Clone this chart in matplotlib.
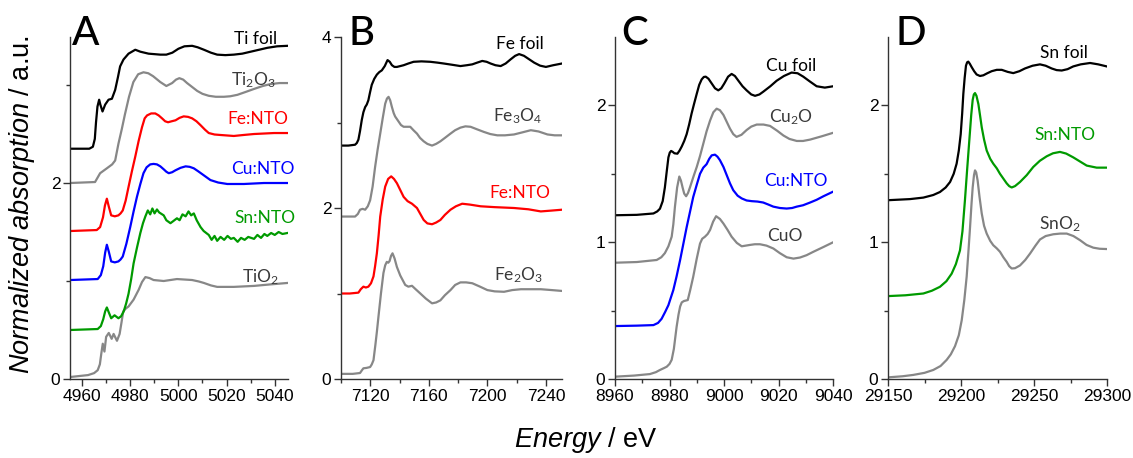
import matplotlib
matplotlib.use("Agg")
import matplotlib.pyplot as plt
from matplotlib.ticker import FixedLocator

plt.rcParams['font.family'] = ['Liberation Sans', 'DejaVu Sans']
plt.rcParams['mathtext.fontset'] = 'custom'
plt.rcParams['mathtext.rm'] = 'Lato'
plt.rcParams['mathtext.it'] = 'Liberation Sans:italic'

BLACK = '#000000'
GRAY = '#878787'
RED = '#ff0000'
BLUE = '#0000ff'
GREEN = '#009a00'
LABGRAY = '#3a3a3a'

# ---------------- Panel A : Ti K-edge ----------------
a_tifoil_e = [4955, 4963.0, 4964.5, 4965.3, 4965.8, 4966.4, 4967.1, 4967.6, 4968.5, 4969.6,
              4971.0, 4972.4, 4973.75, 4974.9, 4975.8, 4977.2, 4979.3, 4982.1, 4984.2, 4987.6,
              4992.5, 4995.0, 4997.5, 5000.0, 5002.5, 5005.7, 5008.0, 5010.6, 5013.5, 5016.1,
              5019.5, 5023.0, 5026.5, 5030.0, 5033.5, 5037.0, 5041.0, 5045.3]
a_tifoil_y = [2.35, 2.35, 2.37, 2.45, 2.62, 2.78, 2.85, 2.80, 2.73, 2.80,
              2.85, 2.86, 2.95, 3.08, 3.19, 3.26, 3.32, 3.36, 3.34, 3.32,
              3.31, 3.31, 3.33, 3.37, 3.395, 3.40, 3.385, 3.36, 3.33, 3.31,
              3.305, 3.31, 3.32, 3.34, 3.36, 3.38, 3.395, 3.40]

a_ti2o3_e = [4955, 4965.4, 4967.5, 4970.3, 4972.5, 4973.75, 4975.1, 4976.5, 4977.8, 4979.5,
             4981.3, 4983.3, 4985.5, 4987.5, 4989.5, 4992.5, 4995.0, 4997.4, 4999.0, 5000.4,
             5002.0, 5003.6, 5005.7, 5007.8, 5010.0, 5012.6, 5015.5, 5018.9, 5021.5, 5024.5,
             5028.0, 5031.4, 5035.0, 5038.3, 5042.0, 5045.3]
a_ti2o3_y = [2.00, 2.01, 2.10, 2.15, 2.19, 2.23, 2.40, 2.55, 2.70, 2.88,
             3.03, 3.11, 3.13, 3.12, 3.09, 3.03, 2.99, 3.02, 3.055, 3.07,
             3.055, 3.02, 2.98, 2.94, 2.91, 2.89, 2.88, 2.88, 2.885, 2.90,
             2.93, 2.96, 2.99, 3.01, 3.02, 3.02]

a_fento_e = [4955, 4966.1, 4967.5, 4968.7, 4969.5, 4970.3, 4971.1, 4972.1, 4973.6, 4975.1,
             4976.0, 4976.9, 4978.1, 4979.3, 4980.7, 4982.1, 4983.5, 4984.9, 4986.0, 4987.0,
             4988.7, 4990.4, 4991.8, 4993.2, 4994.5, 4995.7, 4997.2, 4998.8, 5000.5, 5002.2,
             5004.0, 5005.7, 5007.5, 5009.2, 5011.0, 5012.6, 5015.0, 5017.5, 5023.0, 5027.0,
             5031.4, 5039.7, 5045.3]
a_fento_y = [1.51, 1.52, 1.55, 1.65, 1.77, 1.84, 1.76, 1.67, 1.66, 1.67,
             1.69, 1.72, 1.82, 1.96, 2.12, 2.27, 2.43, 2.57, 2.66, 2.69,
             2.71, 2.71, 2.69, 2.66, 2.63, 2.62, 2.63, 2.64, 2.665, 2.68,
             2.675, 2.66, 2.63, 2.59, 2.545, 2.51, 2.495, 2.49, 2.48, 2.49,
             2.50, 2.51, 2.51]

a_cunto_e = [4955, 4966.5, 4967.8, 4968.8, 4969.6, 4970.3, 4971.1, 4972.1, 4973.6, 4975.1,
             4976.0, 4976.9, 4978.4, 4980.0, 4981.4, 4982.8, 4984.2, 4985.5, 4986.8, 4988.3,
             4989.7, 4991.1, 4992.5, 4993.9, 4995.0, 4996.0, 4997.4, 4998.8, 5000.9, 5003.0,
             5004.7, 5006.4, 5008.2, 5009.9, 5011.6, 5013.3, 5016.5, 5020.3, 5027.2, 5035.5,
             5045.3]
a_cunto_y = [1.01, 1.02, 1.06, 1.15, 1.29, 1.37, 1.30, 1.20, 1.19, 1.20,
             1.22, 1.25, 1.38, 1.55, 1.71, 1.86, 1.99, 2.10, 2.16, 2.19,
             2.195, 2.19, 2.17, 2.14, 2.115, 2.10, 2.11, 2.13, 2.155, 2.17,
             2.165, 2.15, 2.12, 2.09, 2.06, 2.03, 2.005, 1.99, 1.99, 2.00,
             2.00]

a_snnto_e = [4955, 4966.5, 4967.8, 4968.8, 4969.6, 4970.3, 4971.1, 4972.1, 4973.5, 4975.1,
             4976.2, 4977.3, 4978.3, 4979.3, 4980.4, 4981.4, 4982.8, 4984.2, 4985.3, 4986.3,
             4987.3, 4988.3, 4989.2, 4990.1, 4991.1, 4992.0, 4993.9, 4995.0, 4996.7, 4997.8,
             4999.4, 5000.5, 5001.7, 5003.0, 5004.2, 5005.3, 5006.4, 5007.6, 5009.2, 5010.5,
             5012.6, 5013.8, 5015.0, 5016.1, 5017.5, 5019.0, 5020.4, 5021.8, 5023.0, 5024.6,
             5026.0, 5027.5, 5029.0, 5031.4, 5032.8, 5034.3, 5035.7, 5036.9, 5038.5, 5040.0,
             5041.6, 5043.2, 5045.3]
a_snnto_y = [0.50, 0.51, 0.54, 0.61, 0.69, 0.73, 0.68, 0.62, 0.65, 0.62,
             0.64, 0.69, 0.77, 0.87, 1.02, 1.18, 1.34, 1.49, 1.59, 1.66,
             1.72, 1.68, 1.74, 1.69, 1.73, 1.70, 1.67, 1.62, 1.59, 1.61,
             1.64, 1.62, 1.68, 1.66, 1.71, 1.67, 1.69, 1.62, 1.55, 1.51,
             1.47, 1.42, 1.46, 1.41, 1.45, 1.42, 1.46, 1.43, 1.44, 1.40,
             1.44, 1.42, 1.45, 1.43, 1.47, 1.44, 1.48, 1.46, 1.49, 1.47,
             1.50, 1.48, 1.49]

a_tio2_e = [4955, 4962.5, 4965.0, 4966.5, 4967.4, 4968.0, 4968.6, 4969.3, 4970.0, 4971.1,
            4972.3, 4973.1, 4974.5, 4975.6, 4976.4, 4977.1, 4978.2, 4979.3, 4981.4, 4983.5,
            4984.9, 4986.3, 4988.0, 4989.7, 4993.9, 4999.4, 5005.7, 5008.5, 5010.6, 5013.5,
            5016.1, 5023.0, 5031.4, 5038.0, 5045.3]
a_tio2_y = [0.02, 0.04, 0.06, 0.09, 0.15, 0.26, 0.36, 0.28, 0.43, 0.47,
            0.41, 0.46, 0.39, 0.46, 0.58, 0.69, 0.72, 0.74, 0.81, 0.91,
            0.99, 1.04, 1.03, 1.01, 1.00, 1.02, 1.01, 0.995, 0.98, 0.955,
            0.94, 0.94, 0.95, 0.965, 0.98]

# ---------------- Panel B : Fe K-edge ----------------
b_fefoil_e = [7100.7, 7105.0, 7109.6, 7110.8, 7111.9, 7113.0, 7114.2, 7115.3, 7116.5, 7117.6,
              7118.7, 7119.8, 7121.0, 7122.7, 7124.5, 7126.2, 7127.9, 7129.9, 7131.8, 7133.3,
              7134.8, 7136.5, 7138.2, 7142.8, 7146.0, 7149.6, 7155.0, 7161.0, 7166.0, 7170.2,
              7176.0, 7181.6, 7186.0, 7189.7, 7193.0, 7196.5, 7199.5, 7202.2, 7205.5, 7209.1,
              7212.5, 7216.0, 7219.0, 7221.7, 7225.0, 7228.5, 7232.0, 7236.0, 7240.0, 7245.0,
              7251.0]
b_fefoil_y = [2.73, 2.73, 2.74, 2.76, 2.80, 2.90, 3.03, 3.12, 3.18, 3.21,
              3.26, 3.35, 3.44, 3.51, 3.56, 3.59, 3.61, 3.66, 3.73, 3.71,
              3.67, 3.65, 3.65, 3.67, 3.69, 3.71, 3.715, 3.71, 3.70, 3.69,
              3.675, 3.66, 3.67, 3.68, 3.70, 3.72, 3.71, 3.69, 3.67, 3.66,
              3.69, 3.74, 3.78, 3.80, 3.78, 3.74, 3.70, 3.665, 3.65, 3.67,
              3.69]

b_fe3o4_e = [7100.7, 7109.6, 7111.5, 7113.0, 7114.8, 7116.5, 7118.3, 7119.9, 7121.6, 7123.3,
             7125.0, 7126.8, 7128.5, 7130.2, 7131.4, 7132.5, 7133.6, 7134.8, 7136.0, 7137.0,
             7139.0, 7141.0, 7142.8, 7145.0, 7147.3, 7149.5, 7151.9, 7154.0, 7156.5, 7159.0,
             7162.2, 7165.0, 7167.9, 7171.0, 7174.8, 7178.0, 7181.6, 7185.0, 7188.5, 7193.0,
             7197.6, 7202.0, 7206.8, 7212.0, 7218.2, 7224.0, 7229.7, 7235.0, 7241.1, 7246.0,
             7251.0]
b_fe3o4_y = [1.90, 1.90, 1.93, 1.98, 1.99, 1.98, 2.02, 2.09, 2.25, 2.48,
             2.68, 2.87, 3.05, 3.22, 3.28, 3.30, 3.26, 3.18, 3.11, 3.07,
             3.02, 2.97, 2.95, 2.95, 2.95, 2.91, 2.87, 2.82, 2.78, 2.75,
             2.73, 2.75, 2.78, 2.82, 2.87, 2.91, 2.94, 2.955, 2.95, 2.92,
             2.89, 2.865, 2.85, 2.85, 2.86, 2.885, 2.91, 2.895, 2.86, 2.85,
             2.85]

b_fento_e = [7100.7, 7106.0, 7111.9, 7113.5, 7115.3, 7117.0, 7118.7, 7120.5, 7122.2, 7123.3,
             7124.5, 7125.7, 7126.8, 7128.5, 7130.2, 7132.2, 7134.3, 7136.2, 7138.2, 7140.5,
             7142.8, 7145.5, 7148.5, 7151.9, 7154.2, 7156.5, 7159.0, 7162.2, 7165.0, 7167.9,
             7171.0, 7174.8, 7178.5, 7182.8, 7188.0, 7195.4, 7205.0, 7218.2, 7228.0, 7236.5,
             7244.0, 7251.0]
b_fento_y = [1.00, 1.00, 1.01, 1.05, 1.08, 1.07, 1.08, 1.12, 1.20, 1.32,
             1.47, 1.68, 1.90, 2.10, 2.25, 2.34, 2.37, 2.34, 2.29, 2.21,
             2.13, 2.08, 2.05, 2.00, 1.93, 1.86, 1.82, 1.81, 1.83, 1.86,
             1.92, 1.98, 2.02, 2.05, 2.04, 2.02, 2.01, 2.00, 1.985, 1.96,
             1.97, 1.98]

b_fe2o3_e = [7100.7, 7108.0, 7113.0, 7114.2, 7115.3, 7117.5, 7119.9, 7121.0, 7122.2, 7123.5,
             7124.5, 7125.6, 7127.3, 7129.0, 7130.2, 7131.3, 7132.3, 7133.2, 7134.2, 7135.2,
             7136.6, 7138.2, 7140.5, 7143.9, 7146.0, 7148.5, 7151.0, 7154.2, 7158.0, 7162.2,
             7165.0, 7167.9, 7171.0, 7174.8, 7178.0, 7181.6, 7185.5, 7189.7, 7195.0, 7200.0,
             7205.0, 7211.4, 7217.0, 7222.9, 7230.0, 7236.5, 7244.0, 7251.0]
b_fe2o3_y = [0.06, 0.06, 0.07, 0.10, 0.125, 0.13, 0.14, 0.17, 0.22, 0.40,
             0.55, 0.73, 1.00, 1.24, 1.33, 1.37, 1.36, 1.38, 1.44, 1.47,
             1.41, 1.31, 1.21, 1.10, 1.08, 1.09, 1.05, 1.00, 0.94, 0.885,
             0.895, 0.92, 0.98, 1.04, 1.10, 1.13, 1.13, 1.12, 1.08, 1.04,
             1.025, 1.02, 1.04, 1.05, 1.05, 1.05, 1.04, 1.03]

# ---------------- Panel C : Cu K-edge ----------------
c_cufoil_e = [8960.0, 8968.0, 8974.1, 8975.5, 8976.5, 8977.5, 8978.3, 8979.0, 8979.6, 8980.1,
              8980.6, 8981.2, 8981.8, 8982.9, 8983.7, 8984.5, 8985.4, 8986.3, 8987.2, 8988.1,
              8989.0, 8990.0, 8990.9, 8991.8, 8992.6, 8993.3, 8994.3, 8995.5, 8996.7, 8997.9,
              8999.0, 9000.1, 9001.5, 9002.8, 9004.0, 9005.3, 9006.8, 9008.3, 9010.0, 9011.4,
              9013.0, 9014.4, 9017.0, 9019.3, 9022.0, 9024.8, 9027.0, 9029.1, 9031.5, 9034.0,
              9037.0, 9040.1]
c_cufoil_y = [1.197, 1.20, 1.21, 1.225, 1.245, 1.30, 1.40, 1.52, 1.62, 1.655,
              1.667, 1.66, 1.65, 1.647, 1.67, 1.70, 1.74, 1.79, 1.86, 1.94,
              2.01, 2.085, 2.15, 2.19, 2.208, 2.21, 2.195, 2.16, 2.125, 2.11,
              2.125, 2.16, 2.21, 2.23, 2.215, 2.18, 2.14, 2.11, 2.08, 2.07,
              2.08, 2.10, 2.14, 2.18, 2.215, 2.24, 2.235, 2.21, 2.175, 2.14,
              2.13, 2.14]

c_cu2o_e = [8960.0, 8968.0, 8975.3, 8977.0, 8978.3, 8979.6, 8980.8, 8981.4, 8982.0, 8982.8,
            8983.6, 8984.2, 8984.8, 8985.4, 8986.1, 8986.8, 8987.5, 8988.8, 8990.0, 8991.2,
            8992.4, 8993.6, 8994.9, 8996.1, 8997.3, 8998.5, 8999.8, 9001.0, 9002.2, 9003.4,
            9004.6, 9006.4, 9008.3, 9010.0, 9012.0, 9014.5, 9016.9, 9019.5, 9021.8, 9024.0,
            9026.7, 9029.0, 9031.6, 9036.0, 9040.1]
c_cu2o_y = [0.85, 0.855, 0.87, 0.89, 0.92, 0.97, 1.04, 1.13, 1.26, 1.40,
            1.48, 1.45, 1.40, 1.355, 1.336, 1.36, 1.40, 1.48, 1.55, 1.63,
            1.72, 1.81, 1.89, 1.95, 1.976, 1.965, 1.93, 1.88, 1.83, 1.79,
            1.77, 1.785, 1.82, 1.845, 1.86, 1.86, 1.85, 1.815, 1.78, 1.755,
            1.74, 1.74, 1.75, 1.775, 1.80]

c_cunto_e = [8960.0, 8968.0, 8974.1, 8975.8, 8977.1, 8978.4, 8979.6, 8981.4, 8982.6, 8983.9,
             8985.1, 8986.3, 8987.5, 8988.7, 8990.0, 8991.2, 8992.4, 8993.6, 8994.6, 8995.5,
             8996.7, 8997.6, 8998.5, 8999.8, 9001.0, 9002.2, 9003.4, 9005.0, 9006.5, 9008.3,
             9010.2, 9012.3, 9014.4, 9016.3, 9018.1, 9020.5, 9023.0, 9025.0, 9026.7, 9029.0,
             9031.6, 9034.0, 9036.5, 9040.1]
c_cunto_y = [0.387, 0.39, 0.394, 0.41, 0.44, 0.49, 0.54, 0.65, 0.75, 0.87,
             0.99, 1.11, 1.22, 1.33, 1.42, 1.50, 1.545, 1.57, 1.61, 1.635,
             1.64, 1.625, 1.60, 1.55, 1.49, 1.43, 1.38, 1.34, 1.32, 1.305,
             1.30, 1.297, 1.29, 1.275, 1.26, 1.25, 1.246, 1.25, 1.26, 1.27,
             1.29, 1.31, 1.336, 1.37]

c_cuo_e = [8960.0, 8967.0, 8972.8, 8975.0, 8976.5, 8978.0, 8979.0, 8980.0, 8980.8, 8981.6,
           8982.6, 8983.3, 8983.9, 8984.5, 8985.3, 8986.7, 8987.6, 8988.7, 8990.0, 8991.2,
           8992.0, 8993.0, 8994.0, 8994.9, 8996.0, 8997.1, 8998.5, 8999.8, 9001.3, 9002.8,
           9004.7, 9006.5, 9008.0, 9009.5, 9011.3, 9013.2, 9015.6, 9018.1, 9020.5, 9023.0,
           9025.5, 9027.9, 9030.3, 9032.8, 9036.5, 9040.1]
c_cuo_y = [0.017, 0.025, 0.036, 0.05, 0.066, 0.08, 0.09, 0.11, 0.14, 0.22,
           0.38, 0.47, 0.53, 0.56, 0.57, 0.577, 0.65, 0.747, 0.88, 0.99,
           1.025, 1.04, 1.06, 1.09, 1.15, 1.19, 1.17, 1.136, 1.09, 1.04,
           0.995, 0.97, 0.975, 0.98, 0.985, 0.985, 0.975, 0.954, 0.92, 0.89,
           0.88, 0.888, 0.905, 0.93, 0.965, 1.00]

# ---------------- Panel D : Sn K-edge ----------------
d_snfoil_e = [29150.0, 29165.0, 29174.2, 29181.0, 29185.6, 29189.5, 29192.5, 29195.0, 29197.0, 29198.5,
              29199.8, 29200.8, 29201.6, 29202.5, 29203.4, 29204.2, 29205.0, 29206.0, 29207.3, 29209.0,
              29210.7, 29213.0, 29215.3, 29218.0, 29221.0, 29224.5, 29227.9, 29232.0, 29235.8, 29240.0,
              29243.8, 29249.0, 29254.1, 29258.0, 29262.1, 29265.5, 29269.0, 29273.0, 29276.9, 29282.0,
              29288.4, 29294.0, 29299.8]
d_snfoil_y = [1.307, 1.315, 1.326, 1.345, 1.367, 1.40, 1.44, 1.50, 1.574, 1.67,
              1.79, 1.94, 2.085, 2.20, 2.29, 2.315, 2.32, 2.305, 2.28, 2.25,
              2.226, 2.215, 2.22, 2.235, 2.25, 2.26, 2.26, 2.245, 2.236, 2.25,
              2.27, 2.29, 2.30, 2.29, 2.27, 2.258, 2.255, 2.265, 2.285, 2.30,
              2.31, 2.30, 2.285]

d_snnto_e = [29150.0, 29162.0, 29174.2, 29180.0, 29185.6, 29190.0, 29193.6, 29196.5, 29199.3, 29201.0,
             29202.7, 29204.2, 29205.7, 29207.0, 29208.0, 29208.8, 29209.6, 29210.6, 29211.9, 29213.0,
             29214.2, 29215.8, 29217.6, 29220.0, 29222.1, 29224.5, 29226.7, 29229.0, 29231.3, 29233.0,
             29234.7, 29237.0, 29240.4, 29245.0, 29249.5, 29254.0, 29258.7, 29263.0, 29267.8, 29272.0,
             29276.9, 29281.5, 29286.1, 29292.9, 29299.8]
d_snnto_y = [0.606, 0.612, 0.625, 0.645, 0.674, 0.715, 0.77, 0.84, 0.94, 1.08,
             1.307, 1.53, 1.745, 1.93, 2.04, 2.08, 2.09, 2.07, 2.01, 1.93,
             1.84, 1.75, 1.67, 1.61, 1.574, 1.54, 1.50, 1.465, 1.43, 1.41,
             1.40, 1.41, 1.44, 1.49, 1.55, 1.595, 1.628, 1.65, 1.66, 1.648,
             1.62, 1.59, 1.56, 1.545, 1.545]

d_sno2_e = [29150.0, 29160.0, 29167.4, 29175.0, 29181.0, 29186.0, 29190.2, 29193.0, 29195.9, 29198.5,
            29200.5, 29202.3, 29203.9, 29205.2, 29206.2, 29207.2, 29208.0, 29208.9, 29209.6, 29210.4,
            29211.4, 29212.7, 29214.2, 29215.8, 29217.6, 29220.0, 29222.1, 29224.5, 29226.7, 29229.0,
            29231.3, 29233.0, 29234.7, 29237.0, 29240.4, 29244.0, 29247.3, 29251.0, 29254.1, 29258.0,
            29263.2, 29268.0, 29272.4, 29277.0, 29281.5, 29286.0, 29290.6, 29295.0, 29299.8]
d_sno2_y = [0.012, 0.02, 0.03, 0.045, 0.066, 0.095, 0.14, 0.18, 0.24, 0.32,
            0.43, 0.58, 0.75, 0.95, 1.11, 1.28, 1.40, 1.49, 1.525, 1.51,
            1.45, 1.33, 1.21, 1.12, 1.063, 1.01, 0.978, 0.955, 0.93, 0.89,
            0.856, 0.825, 0.808, 0.81, 0.83, 0.87, 0.917, 0.975, 1.02, 1.045,
            1.058, 1.063, 1.063, 1.045, 1.015, 0.98, 0.96, 0.952, 0.95]

# ---------------- layout ----------------
W, H = 1133, 458
fig = plt.figure(figsize=(W / 100, H / 100), dpi=100)


def px_axes(l, r, t=37, b=379):
    return fig.add_axes([l / W, (H - b) / H, (r - l) / W, (b - t) / H])


LW = 1.6
LBL = dict(fontfamily='Lato', fontsize=12.5, ha='center', va='center')


def style(ax, xlim, ylim, xmaj, xmin, ymaj, ymin):
    ax.set_xlim(*xlim)
    ax.set_ylim(*ylim)
    ax.xaxis.set_major_locator(FixedLocator(xmaj))
    ax.xaxis.set_minor_locator(FixedLocator(xmin))
    ax.yaxis.set_major_locator(FixedLocator(ymaj))
    ax.yaxis.set_minor_locator(FixedLocator(ymin))
    for s in ('top', 'right'):
        ax.spines[s].set_visible(False)
    for s in ('left', 'bottom'):
        ax.spines[s].set_linewidth(1.0)
        ax.spines[s].set_color('#333333')
    ax.tick_params(which='major', direction='out', length=5, width=1.0,
                   color='#333333', labelsize=12.5, pad=2)
    ax.tick_params(which='minor', direction='out', length=3, width=1.0, color='#333333')
    ax.patch.set_alpha(0)


def letter(s, xp):
    fig.text(xp / W, (H - 45) / H, s, fontfamily='Lato', fontsize=29,
             fontweight='medium', ha='left', va='baseline')


# Panel A
axA = px_axes(70, 288)
axA.plot(a_tio2_e, a_tio2_y, color=GRAY, lw=LW)
axA.plot(a_snnto_e, a_snnto_y, color=GREEN, lw=LW)
axA.plot(a_cunto_e, a_cunto_y, color=BLUE, lw=LW)
axA.plot(a_fento_e, a_fento_y, color=RED, lw=LW)
axA.plot(a_ti2o3_e, a_ti2o3_y, color=GRAY, lw=LW)
axA.plot(a_tifoil_e, a_tifoil_y, color=BLACK, lw=LW)
style(axA, (4955, 5045.5), (0, 3.49), [4960, 4980, 5000, 5020, 5040],
      [4970, 4990, 5010, 5030], [0, 2], [1, 3])
axA.text(5032, 3.47, 'Ti foil', color=BLACK, **LBL)
axA.text(5031, 3.05, 'Ti$_2$O$_3$', color=LABGRAY, **LBL)
axA.text(5033, 2.65, 'Fe:NTO', color=RED, **LBL)
axA.text(5035, 2.14, 'Cu:NTO', color=BLUE, **LBL)
axA.text(5036, 1.64, 'Sn:NTO', color=GREEN, **LBL)
axA.text(5034, 1.04, 'TiO$_2$', color=LABGRAY, **LBL)
letter('A', 72)

# Panel B
axB = px_axes(341, 562)
axB.plot(b_fe2o3_e, b_fe2o3_y, color=GRAY, lw=LW)
axB.plot(b_fento_e, b_fento_y, color=RED, lw=LW)
axB.plot(b_fe3o4_e, b_fe3o4_y, color=GRAY, lw=LW)
axB.plot(b_fefoil_e, b_fefoil_y, color=BLACK, lw=LW)
style(axB, (7100, 7251), (0, 4.0), [7120, 7160, 7200, 7240],
      [7100, 7140, 7180, 7220], [0, 2, 4], [1, 3])
axB.text(7222, 3.92, 'Fe foil', color=BLACK, **LBL)
axB.text(7221, 3.08, 'Fe$_3$O$_4$', color=LABGRAY, **LBL)
axB.text(7222, 2.17, 'Fe:NTO', color=RED, **LBL)
axB.text(7221, 1.21, 'Fe$_2$O$_3$', color=LABGRAY, **LBL)
letter('B', 349)

# Panel C
axC = px_axes(615, 833)
axC.plot(c_cuo_e, c_cuo_y, color=GRAY, lw=LW)
axC.plot(c_cunto_e, c_cunto_y, color=BLUE, lw=LW)
axC.plot(c_cu2o_e, c_cu2o_y, color=GRAY, lw=LW)
axC.plot(c_cufoil_e, c_cufoil_y, color=BLACK, lw=LW)
style(axC, (8960, 9040), (0, 2.5), [8960, 8980, 9000, 9020, 9040],
      [8970, 8990, 9010, 9030], [0, 1, 2], [0.5, 1.5])
axC.text(9024.5, 2.287, 'Cu foil', color=BLACK, **LBL)
axC.text(9024.5, 1.912, 'Cu$_2$O', color=LABGRAY, **LBL)
axC.text(9026.3, 1.446, 'Cu:NTO', color=BLUE, **LBL)
axC.text(9022.2, 1.044, 'CuO', color=LABGRAY, **LBL)
letter('C', 621)

# Panel D
axD = px_axes(888, 1107)
axD.plot(d_sno2_e, d_sno2_y, color=GRAY, lw=LW)
axD.plot(d_snnto_e, d_snnto_y, color=GREEN, lw=LW)
axD.plot(d_snfoil_e, d_snfoil_y, color=BLACK, lw=LW)
style(axD, (29150, 29300), (0, 2.5), [29150, 29200, 29250, 29300],
      [29175, 29225, 29275], [0, 1, 2], [0.5, 1.5])
axD.text(29270.5, 2.38, 'Sn foil', color=BLACK, **LBL)
axD.text(29271.5, 1.781, 'Sn:NTO', color=GREEN, **LBL)
axD.text(29268, 1.131, 'SnO$_2$', color=LABGRAY, **LBL)
letter('D', 895)

# axis titles
fig.text(22 / W, (H - 205) / H, r'$\it{Normalized\ absorption}$ / a.u.',
         rotation=90, ha='center', va='center', fontsize=19.5,
         fontfamily='Liberation Sans')
fig.text(586 / W, (H - 440) / H, r'$\it{Energy}$ / eV', ha='center', va='center',
         fontsize=19.5, fontfamily='Liberation Sans')

fig.savefig('out.png', dpi=100)
